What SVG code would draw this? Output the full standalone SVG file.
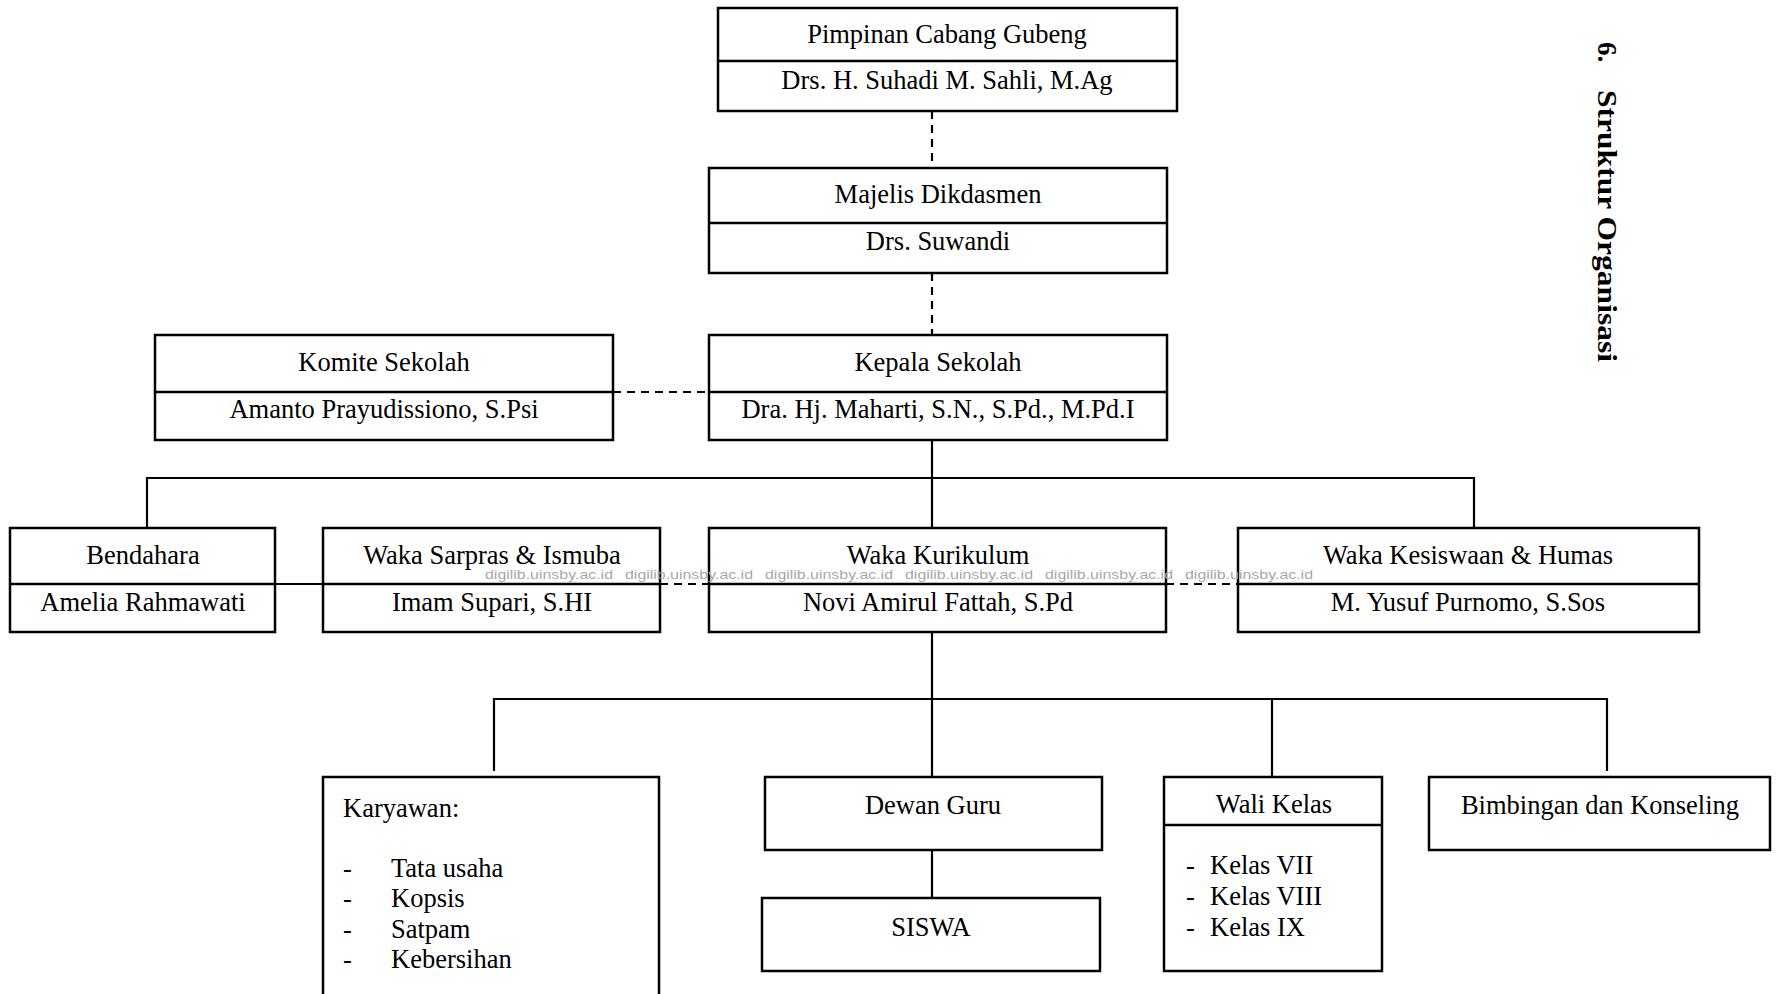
<svg xmlns="http://www.w3.org/2000/svg" width="1776" height="994" viewBox="0 0 1776 994">
<style>
.box{fill:#fff;stroke:#000;stroke-width:2.5}
.div{stroke:#000;stroke-width:2.5;fill:none}
.ln{stroke:#000;stroke-width:2.2;fill:none}
.dash{stroke:#000;stroke-width:2.2;fill:none;stroke-dasharray:8 6}
text{font-family:"Liberation Serif","Times New Roman",serif;font-size:26.5px;fill:#000}
.c{text-anchor:middle}
.wm{font-family:"Liberation Sans",Arial,sans-serif;font-size:13.5px;fill:#a8a8a8}
.title{font-weight:bold;font-size:27px}
</style>
<rect width="1776" height="994" fill="#fff"/>
<g id="connectors">
<line class="dash" x1="932" y1="111" x2="932" y2="168"/>
<line class="dash" x1="932" y1="273" x2="932" y2="335"/>
<line class="dash" x1="613" y1="392" x2="709" y2="392"/>
<line class="ln" x1="932" y1="440" x2="932" y2="528"/>
<polyline class="ln" points="147,528 147,478 1474,478 1474,528"/>
<line class="ln" x1="275" y1="584" x2="323" y2="584"/>
<line class="dash" x1="660" y1="584" x2="709" y2="584"/>
<line class="dash" x1="1166" y1="584" x2="1238" y2="584"/>
<line class="ln" x1="932" y1="632" x2="932" y2="777"/>
<polyline class="ln" points="494,771 494,699 1607,699 1607,771"/>
<line class="ln" x1="1272" y1="699" x2="1272" y2="777"/>
<line class="ln" x1="932" y1="850" x2="932" y2="898"/>
</g>
<g id="pimpinan">
<rect class="box" x="718" y="8" width="459" height="103"/>
<line class="div" x1="718" y1="61" x2="1177" y2="61"/>
<text class="c" x="947" y="43">Pimpinan Cabang Gubeng</text>
<text class="c" x="947" y="89">Drs. H. Suhadi M. Sahli, M.Ag</text>
</g>
<g id="majelis">
<rect class="box" x="709" y="168" width="458" height="105"/>
<line class="div" x1="709" y1="223" x2="1167" y2="223"/>
<text class="c" x="938" y="203">Majelis Dikdasmen</text>
<text class="c" x="938" y="250">Drs. Suwandi</text>
</g>
<g id="komite">
<rect class="box" x="155" y="335" width="458" height="105"/>
<line class="div" x1="155" y1="392" x2="613" y2="392"/>
<text class="c" x="384" y="371">Komite Sekolah</text>
<text class="c" x="384" y="418">Amanto Prayudissiono, S.Psi</text>
</g>
<g id="kepala">
<rect class="box" x="709" y="335" width="458" height="105"/>
<line class="div" x1="709" y1="392" x2="1167" y2="392"/>
<text class="c" x="938" y="371">Kepala Sekolah</text>
<text class="c" x="938" y="418">Dra. Hj. Maharti, S.N., S.Pd., M.Pd.I</text>
</g>
<g id="bendahara">
<rect class="box" x="10" y="528" width="265" height="104"/>
<line class="div" x1="10" y1="584" x2="275" y2="584"/>
<text class="c" x="143" y="564">Bendahara</text>
<text class="c" x="143" y="611">Amelia Rahmawati</text>
</g>
<g id="sarpras">
<rect class="box" x="323" y="528" width="337" height="104"/>
<line class="div" x1="323" y1="584" x2="660" y2="584"/>
<text class="c" x="492" y="564">Waka Sarpras &amp; Ismuba</text>
<text class="c" x="492" y="611">Imam Supari, S.HI</text>
</g>
<g id="kurikulum">
<rect class="box" x="709" y="528" width="457" height="104"/>
<line class="div" x1="709" y1="584" x2="1166" y2="584"/>
<text class="c" x="938" y="564">Waka Kurikulum</text>
<text class="c" x="938" y="611">Novi Amirul Fattah, S.Pd</text>
</g>
<g id="kesiswaan">
<rect class="box" x="1238" y="528" width="461" height="104"/>
<line class="div" x1="1238" y1="584" x2="1699" y2="584"/>
<text class="c" x="1468" y="564">Waka Kesiswaan &amp; Humas</text>
<text class="c" x="1468" y="611">M. Yusuf Purnomo, S.Sos</text>
</g>
<g id="watermark">
<text class="wm" x="485" y="579" textLength="128" lengthAdjust="spacingAndGlyphs">digilib.uinsby.ac.id</text>
<text class="wm" x="625" y="579" textLength="128" lengthAdjust="spacingAndGlyphs">digilib.uinsby.ac.id</text>
<text class="wm" x="765" y="579" textLength="128" lengthAdjust="spacingAndGlyphs">digilib.uinsby.ac.id</text>
<text class="wm" x="905" y="579" textLength="128" lengthAdjust="spacingAndGlyphs">digilib.uinsby.ac.id</text>
<text class="wm" x="1045" y="579" textLength="128" lengthAdjust="spacingAndGlyphs">digilib.uinsby.ac.id</text>
<text class="wm" x="1185" y="579" textLength="128" lengthAdjust="spacingAndGlyphs">digilib.uinsby.ac.id</text>
</g>
<g id="karyawan">
<rect class="box" x="323" y="777" width="336" height="260"/>
<text x="343" y="817">Karyawan:</text>
<text x="343" y="877">-</text><text x="391" y="877">Tata usaha</text>
<text x="343" y="907">-</text><text x="391" y="907">Kopsis</text>
<text x="343" y="938">-</text><text x="391" y="938">Satpam</text>
<text x="343" y="968">-</text><text x="391" y="968">Kebersihan</text>
</g>
<g id="dewan-guru">
<rect class="box" x="765" y="777" width="337" height="73"/>
<text class="c" x="933" y="814">Dewan Guru</text>
</g>
<g id="siswa">
<rect class="box" x="762" y="898" width="338" height="73"/>
<text class="c" x="931" y="936">SISWA</text>
</g>
<g id="wali-kelas">
<rect class="box" x="1164" y="777" width="218" height="194"/>
<line class="div" x1="1164" y1="825" x2="1382" y2="825"/>
<text class="c" x="1274" y="813">Wali Kelas</text>
<text x="1186" y="874">-</text><text x="1210" y="874">Kelas VII</text>
<text x="1186" y="905">-</text><text x="1210" y="905">Kelas VIII</text>
<text x="1186" y="936">-</text><text x="1210" y="936">Kelas IX</text>
</g>
<g id="bimbingan">
<rect class="box" x="1429" y="777" width="341" height="73"/>
<text class="c" x="1600" y="814">Bimbingan dan Konseling</text>
</g>
<g id="title" transform="rotate(90)">
<text class="title" x="42" y="-1598">6.</text>
<text class="title" x="90" y="-1598" textLength="272" lengthAdjust="spacingAndGlyphs">Struktur Organisasi</text>
</g>
</svg>
